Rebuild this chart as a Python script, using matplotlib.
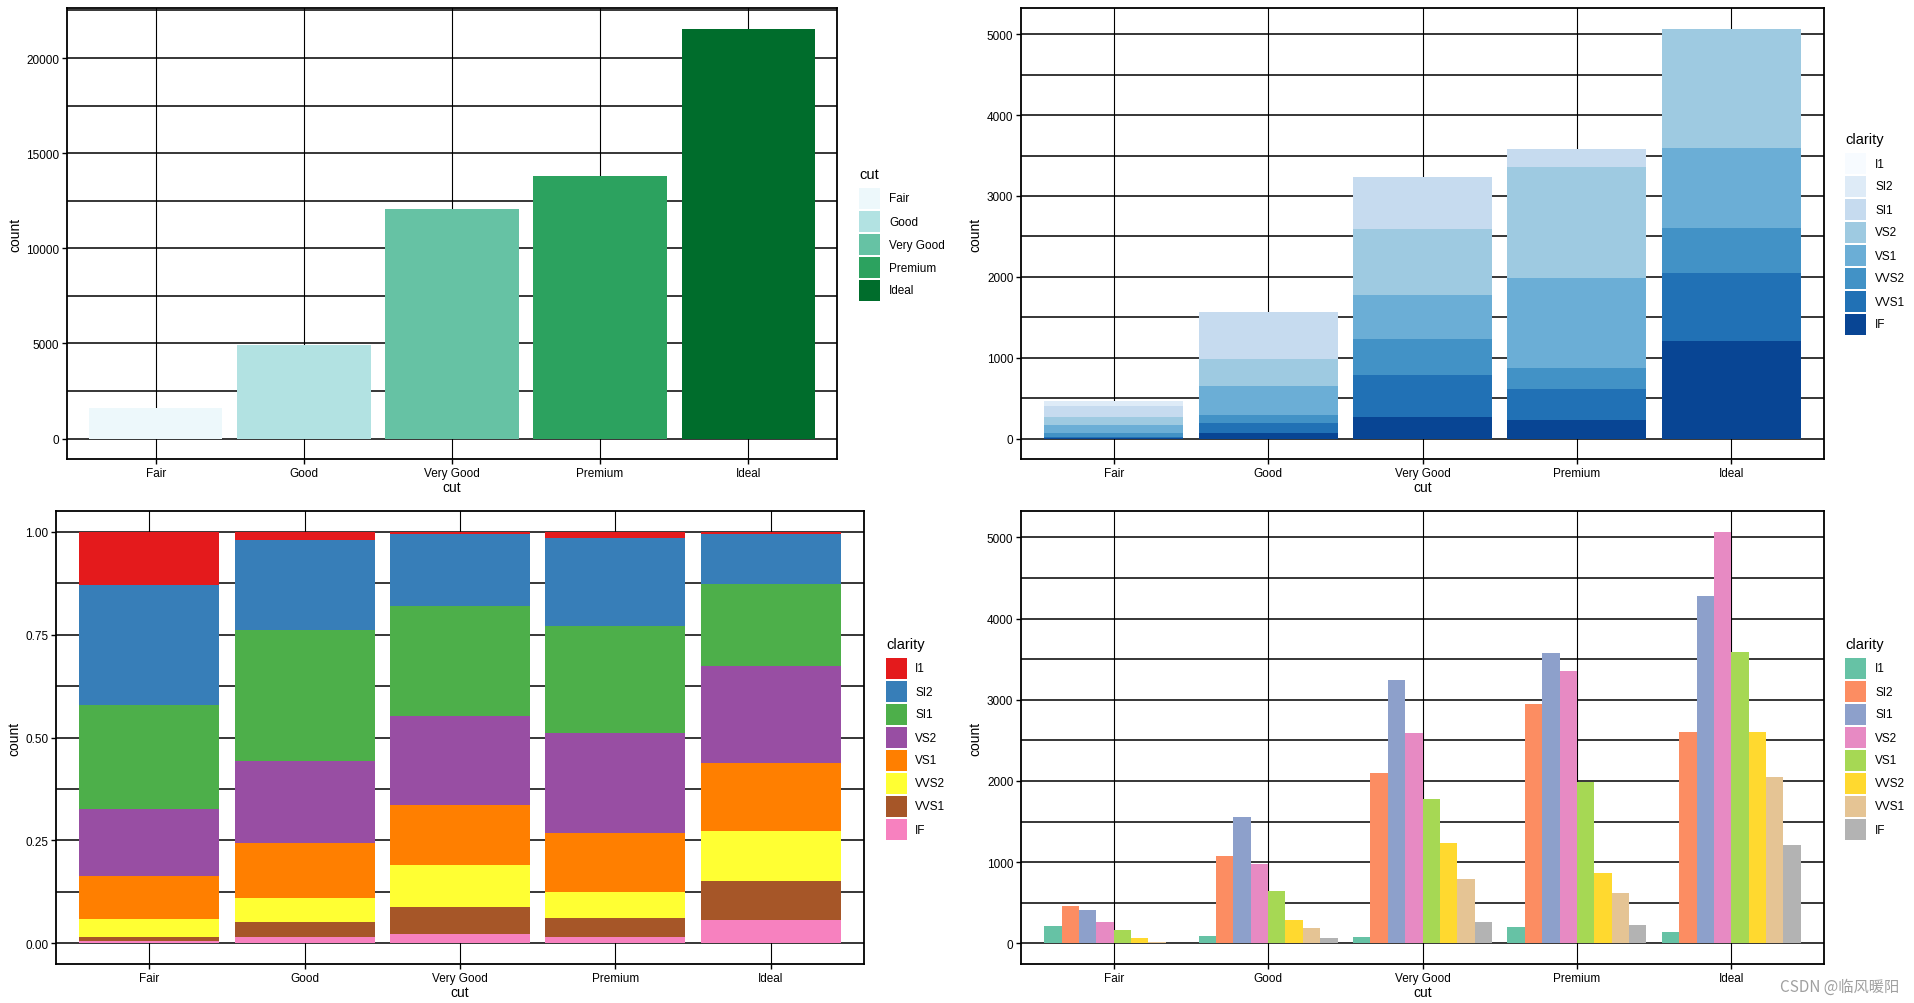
import numpy as np
import matplotlib
matplotlib.use("Agg")
import matplotlib.pyplot as plt
from matplotlib.patches import Rectangle

cuts = ["Fair", "Good", "Very Good", "Premium", "Ideal"]
clarities = ["I1", "SI2", "SI1", "VS2", "VS1", "VVS2", "VVS1", "IF"]

# counts[cut][clarity]
fair = [210, 466, 408, 261, 170, 69, 17, 9]
good = [96, 1081, 1560, 978, 648, 286, 186, 71]
very_good = [84, 2100, 3240, 2591, 1775, 1235, 789, 268]
premium = [205, 2949, 3575, 3357, 1989, 870, 616, 230]
ideal = [146, 2598, 4282, 5071, 3589, 2606, 2047, 1212]
counts = np.array([fair, good, very_good, premium, ideal])
cut_totals = counts.sum(axis=1)

bugn5 = ["#EDF8FB", "#B2E2E2", "#66C2A4", "#2CA25F", "#006D2C"]
blues8 = ["#F7FBFF", "#DEEBF7", "#C6DBEF", "#9ECAE1", "#6BAED6", "#4292C6", "#2171B5", "#084594"]
set1 = ["#E41A1C", "#377EB8", "#4DAF4A", "#984EA3", "#FF7F00", "#FFFF33", "#A65628", "#F781BF"]
set2 = ["#66C2A5", "#FC8D62", "#8DA0CB", "#E78AC3", "#A6D854", "#FFD92F", "#E5C494", "#B3B3B3"]

W, H = 1914, 1004
FONT = ["Liberation Sans", "DejaVu Sans"]

fig = plt.figure(figsize=(W / 100, H / 100), dpi=100)


def px_axes(x0, y0, x1, y1):
    return fig.add_axes([x0 / W, 1 - y1 / H, (x1 - x0) / W, (y1 - y0) / H])


def style(ax, ymax, major, minor, fmt):
    x = np.arange(len(cuts))
    lo, hi = -0.05 * ymax, 1.05 * ymax
    minor = [v for v in minor if lo <= v <= hi]
    ax.set_xticks(x)
    ax.set_xticklabels(cuts, fontfamily=FONT, fontsize=8.5)
    ax.set_yticks(major)
    ax.set_yticklabels([fmt(v) for v in major], fontfamily=FONT, fontsize=8.5)
    ax.set_yticks(minor, minor=True)
    ax.set_xlim(-0.6, len(cuts) - 0.4)
    ax.set_ylim(lo, hi)
    ax.tick_params(axis="y", which="minor", length=0)
    ax.tick_params(axis="both", which="major", length=3.5, width=1.0, pad=2, colors="black")
    for v in list(major) + list(minor):
        ax.axhline(v, color="black", lw=1.1, zorder=0.5)
    for xi in x:
        ax.axvline(xi, color="black", lw=0.8, zorder=0.5)
    for s in ax.spines.values():
        s.set_linewidth(1.3)
        s.set_color("black")
    ax.set_xlabel("cut", fontfamily=FONT, fontsize=10, labelpad=1)
    ax.set_ylabel("count", fontfamily=FONT, fontsize=10, labelpad=3)


def legend(title, labels, colors, x, ty, ky, lx):
    fig.text(x / W, 1 - ty / H, title, fontfamily=FONT, fontsize=10.5, va="center", ha="left")
    for i, (lab, c) in enumerate(zip(labels, colors)):
        top = ky + i * 23
        fig.add_artist(Rectangle((x / W, 1 - (top + 21) / H), 21 / W, 21 / H,
                                 transform=fig.transFigure, facecolor=c, edgecolor="none"))
        fig.text(lx / W, 1 - (top + 10.5) / H, lab, fontfamily=FONT, fontsize=8.5, va="center", ha="left")


x = np.arange(len(cuts))

# top-left: counts by cut
ax1 = px_axes(67, 9, 837, 460)
ax1.bar(x, cut_totals, width=0.9, color=bugn5, zorder=2)
style(ax1, cut_totals.max(), np.arange(0, 20001, 5000), np.arange(2500, 22501, 5000), lambda v: f"{v:d}")
legend("cut", cuts, bugn5, 859, 175, 189, 889)

# top-right: overlapping (identity) bars by clarity
ax2 = px_axes(1021, 9, 1824, 460)
for j, cl in enumerate(clarities):
    ax2.bar(x, counts[:, j], width=0.9, color=blues8[j], zorder=2 + j * 0.01)
style(ax2, counts.max(), np.arange(0, 5001, 1000), np.arange(500, 5501, 1000), lambda v: f"{v:d}")
legend("clarity", clarities, blues8, 1845, 140, 154, 1875)

# bottom-left: proportions (fill)
ax3 = px_axes(56, 512, 864, 965)
props = counts / cut_totals[:, None]
bottom = np.zeros(len(cuts))
for j in range(len(clarities) - 1, -1, -1):
    ax3.bar(x, props[:, j], width=0.9, bottom=bottom, color=set1[j], zorder=2)
    bottom += props[:, j]
style(ax3, 1.0, np.arange(0, 1.01, 0.25), np.arange(0.125, 1.13, 0.25), lambda v: f"{v:.2f}")
legend("clarity", clarities, set1, 886, 645, 659, 915)

# bottom-right: dodged bars
ax4 = px_axes(1021, 512, 1824, 965)
bw = 0.9 / len(clarities)
for j in range(len(clarities)):
    ax4.bar(x - 0.45 + bw * (j + 0.5), counts[:, j], width=bw, color=set2[j], zorder=2)
style(ax4, counts.max(), np.arange(0, 5001, 1000), np.arange(500, 5501, 1000), lambda v: f"{v:d}")
legend("clarity", clarities, set2, 1845, 645, 659, 1875)

fig.text(1899 / W, 1 - 987 / H, "CSDN @临风暖阳", fontfamily=["Noto Sans CJK SC", "DejaVu Sans"],
         fontsize=11, color="#A0A0A0", ha="right", va="center")

fig.savefig("out.png", dpi=100)
